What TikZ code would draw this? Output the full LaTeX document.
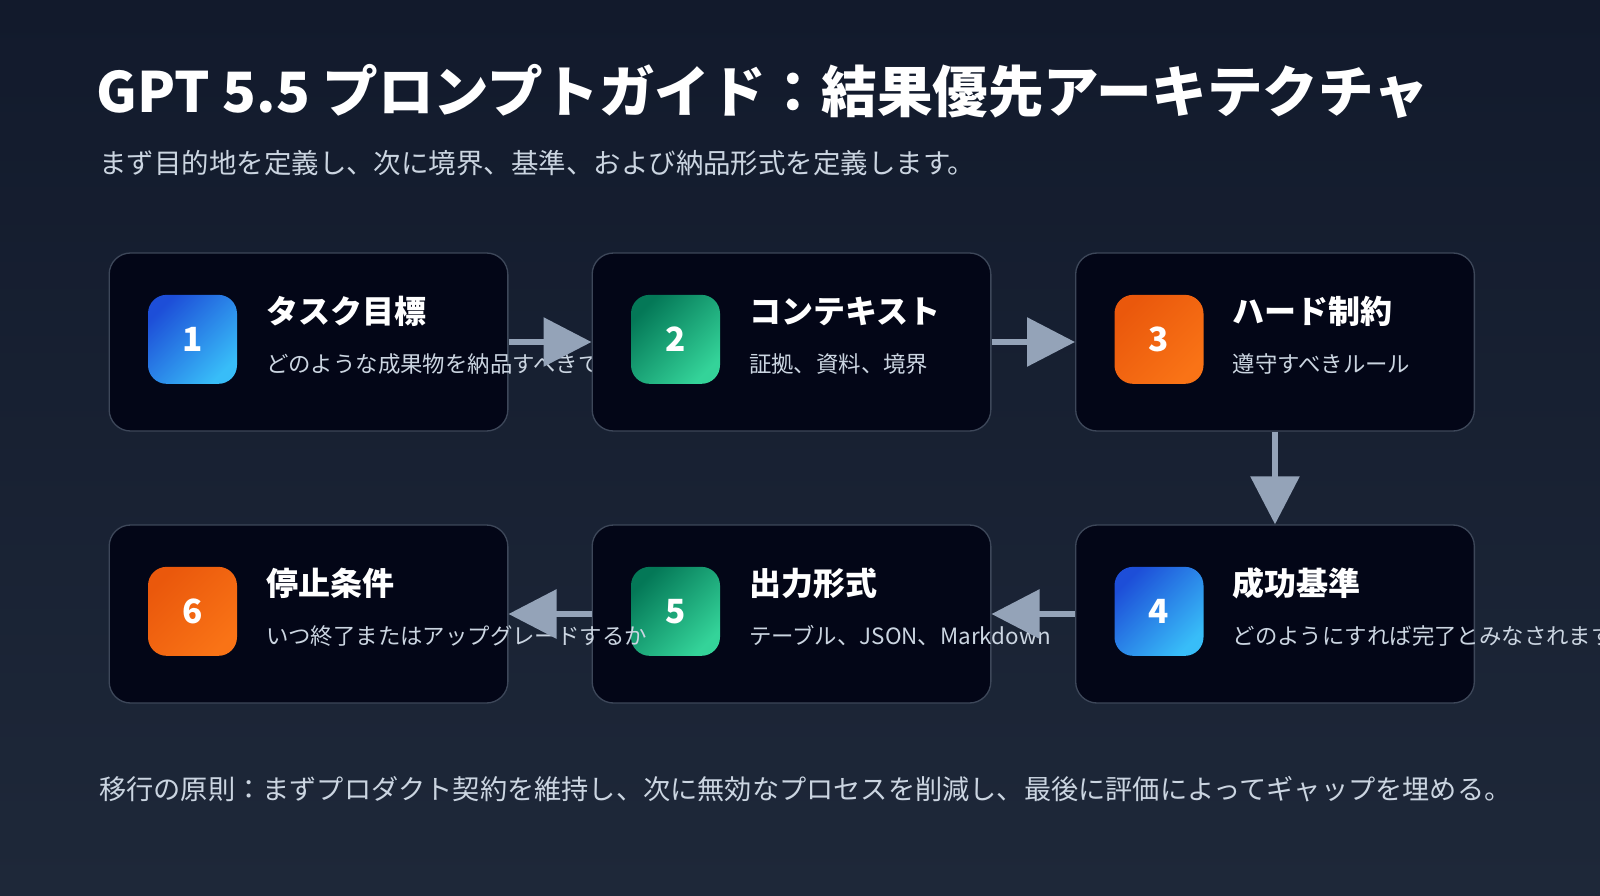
\documentclass[tikz,border=0pt]{standalone}
\usepackage{fontspec}
\setmainfont{Noto Sans CJK JP}
\usetikzlibrary{arrows.meta}
\definecolor{bgtop}{HTML}{121A2C}
\definecolor{bgbot}{HTML}{1E2839}
\definecolor{cardfill}{HTML}{030617}
\definecolor{cardline}{HTML}{3D4759}
\definecolor{arr}{HTML}{94A3B8}
\definecolor{subtxt}{HTML}{CBD5E1}
\definecolor{bA}{HTML}{1D4ED8}\definecolor{bB}{HTML}{38BDF8}
\definecolor{gA}{HTML}{047857}\definecolor{gB}{HTML}{34D399}
\definecolor{oA}{HTML}{EA580C}\definecolor{oB}{HTML}{F97316}
\tikzset{
 card/.style={draw=cardline,line width=1pt,fill=cardfill,rounded corners=16pt,minimum width=299pt,minimum height=133.5pt,inner sep=0},
 icon/.style={rounded corners=14pt,minimum width=66.75pt,minimum height=66.75pt,inner sep=0,text=white,font=\fontsize{25}{25}\selectfont\bfseries},
 ctitle/.style={anchor=west,text=white,font=\fontsize{24}{24}\selectfont\bfseries,inner sep=0},
 cdesc/.style={anchor=west,text=subtxt,font=\fontsize{16.8}{16.8}\selectfont,inner sep=0},
 flow/.style={draw=arr,line width=4.5pt,-{Triangle[length=36pt,width=36pt]}},
}
\begin{document}
\begin{tikzpicture}[x=0.75pt,y=-0.75pt]
\shade[top color=bgtop,bottom color=bgbot] (0,0) rectangle (1600,896);
\useasboundingbox (0,0) rectangle (1600,896);
\node[anchor=west,text=white,font=\fontsize{41.7}{41.7}\selectfont\bfseries,inner sep=0] (title) at (96,92) {GPT 5.5 プロンプトガイド：結果優先アーキテクチャ};
\node[anchor=west,text=subtxt,font=\fontsize{20.6}{20.6}\selectfont,inner sep=0] (sub) at (99,163) {まず目的地を定義し、次に境界、基準、および納品形式を定義します。};
\newcommand\mycard[7]{%
 \node[card] (c#1) at (#2,#3) {};
 \node[icon,left color=#4,right color=#5,shading angle=45] (i#1) at ([xshift=-87pt,yshift=2pt]c#1.center) {#1};
 \node[ctitle] (t#1) at ([xshift=-32pt,yshift=23pt]c#1.center) {#6};
 \node[cdesc] (d#1) at ([xshift=-32pt,yshift=-16.5pt]c#1.center) {#7};
}
\mycard{1}{308.5}{342}{bA}{bB}{タスク目標}{どのような成果物を納品すべきですか}
\mycard{2}{791.5}{342}{gA}{gB}{コンテキスト}{証拠、資料、境界}
\mycard{3}{1275}{342}{oA}{oB}{ハード制約}{遵守すべきルール}
\mycard{4}{1275}{614}{bA}{bB}{成功基準}{どのようにすれば完了とみなされますか}
\mycard{5}{791.5}{614}{gA}{gB}{出力形式}{テーブル、JSON、Markdown}
\mycard{6}{308.5}{614}{oA}{oB}{停止条件}{いつ終了またはアップグレードするか}
\draw[flow] (c1.east) -- (c2.west);
\draw[flow] (c2.east) -- (c3.west);
\draw[flow] (c3.south) -- (c4.north);
\draw[flow] (c4.west) -- (c5.east);
\draw[flow] (c5.west) -- (c6.east);
\node[anchor=west,text=subtxt,font=\fontsize{20.4}{20.4}\selectfont,inner sep=0] (foot) at (99,789) {移行の原則：まずプロダクト契約を維持し、次に無効なプロセスを削減し、最後に評価によってギャップを埋める。};
\end{tikzpicture}
\end{document}
